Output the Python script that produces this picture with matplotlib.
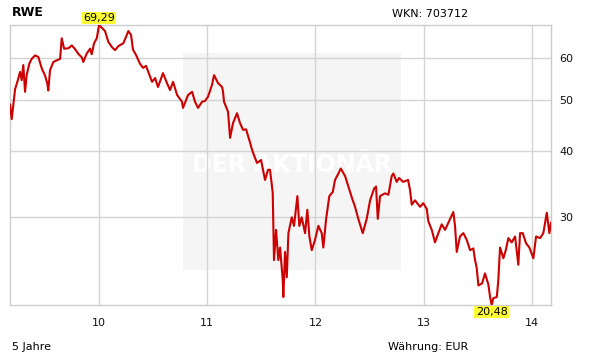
import matplotlib
matplotlib.use("Agg")
import matplotlib.pyplot as plt
from matplotlib.patches import Rectangle
import numpy as np

# ---- data ----
dates = [
    # 2009
    2009.177, 2009.193, 2009.224, 2009.245, 2009.270, 2009.285, 2009.300, 2009.316, 2009.331, 2009.356,
    2009.378, 2009.409, 2009.439, 2009.470, 2009.501, 2009.522, 2009.531, 2009.547, 2009.578, 2009.609,
    2009.640, 2009.655, 2009.677, 2009.716, 2009.748, 2009.778, 2009.809, 2009.840, 2009.855, 2009.886,
    2009.917, 2009.932, 2009.954, 2009.979,
    # 2010
    2010.000, 2010.055, 2010.086, 2010.117, 2010.148, 2010.178, 2010.225, 2010.271, 2010.296, 2010.314,
    2010.342, 2010.379, 2010.407, 2010.434, 2010.490, 2010.518, 2010.545, 2010.591, 2010.628, 2010.656,
    2010.684, 2010.721, 2010.767, 2010.776, 2010.823, 2010.860, 2010.887, 2010.915, 2010.952, 2010.980,
    # 2011
    2011.007, 2011.044, 2011.063, 2011.100, 2011.137, 2011.146, 2011.155, 2011.192, 2011.211, 2011.238,
    2011.275, 2011.303, 2011.331, 2011.359, 2011.396, 2011.410, 2011.430, 2011.460, 2011.497, 2011.534,
    2011.562, 2011.580, 2011.605, 2011.617, 2011.636, 2011.657, 2011.673, 2011.698, 2011.703, 2011.719,
    2011.735, 2011.750, 2011.781, 2011.802, 2011.833, 2011.851, 2011.873, 2011.904, 2011.925, 2011.944,
    2011.966, 2011.996,
    # 2012
    2012.027, 2012.058, 2012.073, 2012.098, 2012.128, 2012.160, 2012.181, 2012.212, 2012.234, 2012.274,
    2012.304, 2012.336, 2012.366, 2012.396, 2012.437, 2012.474, 2012.505, 2012.542, 2012.560, 2012.576,
    2012.597, 2012.643, 2012.674, 2012.705, 2012.720, 2012.751, 2012.773, 2012.810, 2012.856, 2012.874,
    2012.890, 2012.920, 2012.967, 2012.997,
    # 2013
    2013.029, 2013.043, 2013.075, 2013.105, 2013.136, 2013.167, 2013.198, 2013.228, 2013.274, 2013.290,
    2013.306, 2013.336, 2013.367, 2013.398, 2013.429, 2013.459, 2013.475, 2013.490, 2013.506, 2013.540,
    2013.567, 2013.598, 2013.614, 2013.629, 2013.644, 2013.676, 2013.690, 2013.706, 2013.737, 2013.759,
    2013.783, 2013.814, 2013.845, 2013.875, 2013.891, 2013.916, 2013.946, 2013.977,
    # 2014
    2014.014, 2014.039, 2014.076, 2014.106, 2014.138, 2014.162, 2014.177,
]
prices = [
    # 2009
    49.0, 46.0, 52.4, 54.1, 56.5, 54.5, 58.2, 51.8, 55.7, 58.6,
    59.8, 60.7, 60.3, 57.4, 55.6, 53.7, 52.1, 56.9, 59.0, 59.4,
    59.8, 65.4, 62.5, 62.6, 63.4, 62.4, 61.1, 60.2, 59.0, 61.2,
    62.5, 61.0, 64.0, 65.4,
    # 2010
    69.29, 67.5, 64.4, 63.0, 62.1, 63.2, 64.0, 67.5, 66.35, 62.2,
    60.8, 58.5, 57.5, 58.0, 54.1, 55.0, 52.9, 56.2, 53.8, 52.2,
    54.1, 51.1, 49.6, 48.3, 51.1, 51.8, 49.6, 48.3, 49.6, 49.8,
    # 2011
    50.7, 53.4, 55.7, 53.8, 52.9, 51.8, 49.6, 47.5, 42.4, 45.2,
    47.2, 45.2, 43.9, 44.0, 41.5, 40.5, 39.4, 38.0, 38.5, 35.3,
    36.9, 36.9, 33.4, 24.9, 28.4, 24.9, 26.3, 22.8, 21.2, 25.8,
    23.1, 28.0, 30.0, 28.9, 32.9, 28.9, 30.0, 28.0, 31.0, 27.6,
    26.0, 27.2,
    # 2012
    28.9, 28.0, 26.3, 29.7, 32.9, 33.5, 35.3, 36.3, 37.1, 35.9,
    34.3, 32.7, 31.4, 29.8, 28.0, 29.8, 32.3, 34.0, 34.3, 29.8,
    32.9, 33.3, 33.1, 35.9, 36.3, 35.0, 35.6, 35.0, 35.3, 33.8,
    31.7, 32.3, 31.4, 31.9,
    # 2013
    31.1, 29.5, 28.4, 26.9, 28.0, 29.1, 28.4, 29.3, 30.7, 28.9,
    25.8, 27.6, 28.0, 27.2, 26.0, 26.2, 24.9, 24.1, 22.3, 22.5,
    23.5, 22.4, 21.2, 20.48, 21.1, 21.2, 22.8, 26.3, 25.1, 26.0,
    27.4, 26.9, 27.6, 24.4, 28.0, 28.0, 26.8, 26.3,
    # 2014
    25.1, 27.6, 27.4, 28.0, 30.6, 28.0, 29.3,
]
year_ticks = [2010, 2011, 2012, 2013, 2014]
year_labels = ["10", "11", "12", "13", "14"]
price_ticks = [30, 40, 50, 60]
title = "RWE"
wkn_text = "WKN: 703712"
period_text = "5 Jahre"
currency_text = "Währung: EUR"

# ---- figure ----
W, H = 611, 364
fig = plt.figure(figsize=(W / 100, H / 100), dpi=100)
fig.patch.set_facecolor("white")
L, R, T, B = 10, 551, 25, 305
ax = fig.add_axes([L / W, 1 - B / H, (R - L) / W, (B - T) / H])
ax.set_yscale("log")

x = np.array(dates)
y = np.array(prices)
ymin, ymax = y.min(), y.max()
ax.set_xlim(x[0], x[-1])
ax.set_ylim(ymin, ymax)

# watermark
ax.add_patch(Rectangle((0.3198, 0.125), 0.403, 0.775, transform=ax.transAxes,
                       facecolor="#f6f5f5", edgecolor="none", zorder=0))
ax.text(0.521, 0.50, "DER AKTIONÄR", transform=ax.transAxes, ha="center", va="center",
        fontsize=17, fontweight="bold", color="white", zorder=0.2)

ax.set_axisbelow(True)
ax.plot(x, y, color="#cc0000", lw=1.5, zorder=3)

ax.set_xticks(year_ticks)
ax.set_xticklabels(year_labels)
ax.set_yticks(price_ticks)
ax.set_yticklabels([str(v) for v in price_ticks])
ax.yaxis.set_minor_locator(matplotlib.ticker.NullLocator())
ax.yaxis.tick_right()
ax.tick_params(axis="both", length=0, labelsize=8, colors="#111111")
ax.tick_params(axis="y", pad=6)
ax.tick_params(axis="x", pad=9)
ax.grid(True, color="#d4d4d4", lw=1)
for s in ax.spines.values():
    s.set_color("#cccccc")
    s.set_linewidth(1)

# highlighted extremes
imax = int(np.argmax(y)); imin = int(np.argmin(y))
hl = dict(boxstyle="square,pad=0.12", facecolor="#ffff33", edgecolor="none")
ax.annotate(f"{ymax:.2f}".replace(".", ","), (x[imax], ymax), xytext=(0, 1.5),
            textcoords="offset points", ha="center", va="bottom", fontsize=8,
            bbox=hl, annotation_clip=False, zorder=5)
ax.annotate(f"{ymin:.2f}".replace(".", ","), (x[imin], ymin), xytext=(0, -1.5),
            textcoords="offset points", ha="center", va="top", fontsize=8,
            bbox=hl, annotation_clip=False, zorder=5)

fig.text(12 / W, 1 - 13 / H, title, ha="left", va="center", fontsize=9, fontweight="bold")
fig.text(430 / W, 1 - 14 / H, wkn_text, ha="center", va="center", fontsize=8)
fig.text(12 / W, 1 - 347 / H, period_text, ha="left", va="center", fontsize=8)
fig.text(428 / W, 1 - 347 / H, currency_text, ha="center", va="center", fontsize=8)

fig.savefig("out.png", dpi=100)
